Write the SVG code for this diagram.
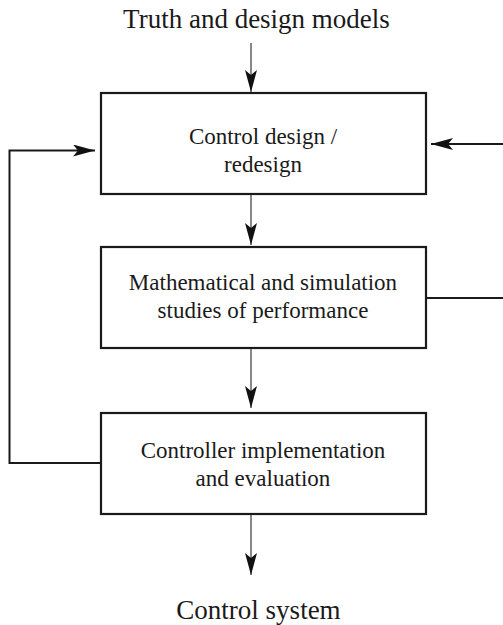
<svg xmlns="http://www.w3.org/2000/svg" width="503" height="625" viewBox="0 0 503 625">
<style>
.box{fill:#fff;stroke:#1a1a1a;stroke-width:2.2}
.t{font-family:"Liberation Serif","Times New Roman",serif;fill:#1a1a1a;text-anchor:middle}
.bt{font-size:23px}
.lt{font-size:27px}
.v{stroke:#555;stroke-width:1.4;fill:none}
.h{stroke:#1a1a1a;stroke-width:2;fill:none}
</style>
<defs>
<marker id="ah" viewBox="0 0 22 12" refX="22" refY="6" markerWidth="22" markerHeight="12" markerUnits="userSpaceOnUse" orient="auto">
<path d="M0,0 L22,6 L0,12 L5,6 Z" fill="#111"/>
</marker>
</defs>
<g id="label-top"><text class="t lt" x="256.5" y="28">Truth and design models</text></g>
<g id="label-bottom"><text class="t lt" x="258.5" y="619">Control system</text></g>
<g id="node-design">
<rect class="box" x="101" y="93" width="325" height="101"/>
<text class="t bt" x="263" y="144">Control design /</text>
<text class="t bt" x="263" y="172">redesign</text>
</g>
<g id="node-studies">
<rect class="box" x="101" y="247" width="325" height="101"/>
<text class="t bt" x="263" y="290">Mathematical and simulation</text>
<text class="t bt" x="263" y="318">studies of performance</text>
</g>
<g id="node-impl">
<rect class="box" x="101" y="413" width="325" height="101"/>
<text class="t bt" x="263" y="458">Controller implementation</text>
<text class="t bt" x="263" y="486">and evaluation</text>
</g>
<g id="connectors">
<line class="v" x1="251" y1="43" x2="251" y2="92" marker-end="url(#ah)"/>
<line class="v" x1="251" y1="195" x2="251" y2="245" marker-end="url(#ah)"/>
<line class="v" x1="251" y1="349" x2="251" y2="408" marker-end="url(#ah)"/>
<line class="v" x1="251" y1="515" x2="251" y2="575" marker-end="url(#ah)"/>
<polyline class="h" points="101,463 9.5,463 9.5,150.5 95,150.5" marker-end="url(#ah)"/>
<line class="h" x1="426" y1="298" x2="503" y2="298"/>
<line class="h" x1="503" y1="144" x2="431" y2="144" marker-end="url(#ah)"/>
</g>
</svg>
